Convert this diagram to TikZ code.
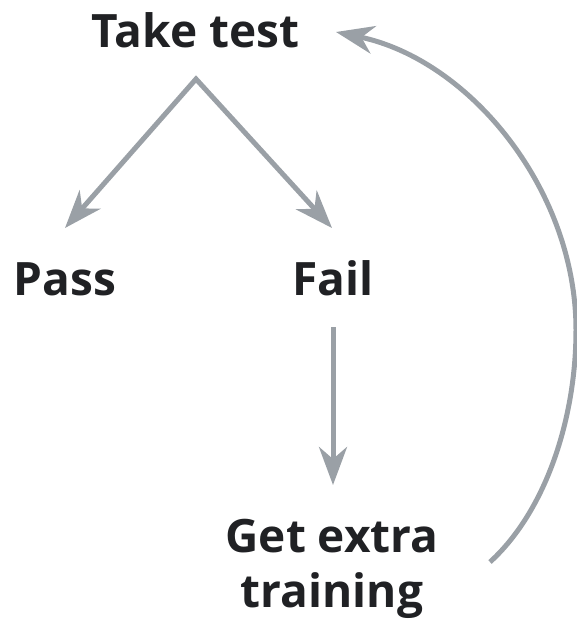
\documentclass[tikz,border=0pt]{standalone}
\usepackage{fontspec}
\setmainfont{Open Sans}
\usetikzlibrary{arrows.meta}
\definecolor{txt}{HTML}{202124}
\definecolor{arrc}{HTML}{9AA0A6}
\begin{document}
\begin{tikzpicture}[x=1pt,y=-1pt,
  lbl/.style={font=\fontsize{46}{55}\selectfont\bfseries, text=txt, inner sep=0pt, anchor=base},
  arr/.style={draw=arrc, line width=5pt, -{Stealth[length=38pt,width=28pt,inset=12pt]}},
  arrboth/.style={draw=arrc, line width=5pt, miter limit=20, {Stealth[length=38pt,width=28pt,inset=12pt]}-{Stealth[length=38pt,width=28pt,inset=12pt]}}]
\useasboundingbox (0,0) rectangle (577,619);
\node[lbl] (take) at (195.5,47) {Take test};
\node[lbl] (pass) at (65,295) {Pass};
\node[lbl] (fail) at (333,295) {Fail};
\node[lbl, align=center] (extra) at (332,607) {Get extra\\training};
\coordinate (apex) at (196,79);
\coordinate (passtip) at (65,228);
\coordinate (failtip) at (332,228);
\coordinate (failout) at (333,327);
\coordinate (extrain) at (333,485);
\coordinate (extraout) at (490,562);
\coordinate (rightmost) at (576,330);
\coordinate (taketip) at (336,32);
\draw[arrboth] (passtip) -- (apex) -- (failtip);
\draw[arr] (failout) -- (extrain);
\draw[arr] (extraout) .. controls (545,512) and (576,420) .. (rightmost)
  .. controls (576,190) and (470,60) .. (taketip);
\end{tikzpicture}
\end{document}
